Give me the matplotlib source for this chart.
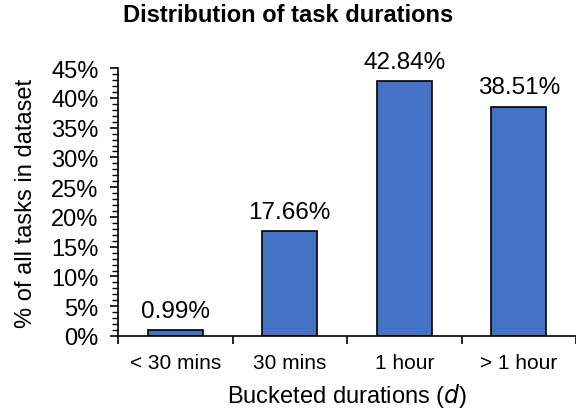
import matplotlib
matplotlib.use('Agg')
import matplotlib.pyplot as plt
from matplotlib.ticker import MultipleLocator, PercentFormatter

plt.rcParams['font.family'] = ['Liberation Sans', 'DejaVu Sans']

# data
categories = ['< 30 mins', '30 mins', '1 hour', '> 1 hour']
share = [0.99, 17.66, 42.84, 38.51]

fig = plt.figure(figsize=(5.76, 4.14), dpi=100)
ax = fig.add_axes([0.205, 0.186, 0.795, 0.647])

x = range(len(categories))
bars = ax.bar(x, share, width=0.48, color='#4472C4', edgecolor='black', linewidth=1.2)
for b, v in zip(bars, share):
    ax.annotate('{:.2f}%'.format(v), (b.get_x() + b.get_width() / 2, v),
                xytext=(0, 6), textcoords='offset points',
                ha='center', va='bottom', fontsize=17.5)

ax.set_xlim(-0.5, len(categories) - 0.5)
ax.set_ylim(0, 45)
ax.yaxis.set_major_locator(MultipleLocator(5))
ax.yaxis.set_minor_locator(MultipleLocator(1))
ax.yaxis.set_major_formatter(PercentFormatter(decimals=0))
ax.tick_params(axis='y', which='major', length=6, width=1.2, labelsize=17, pad=8)
ax.tick_params(axis='y', which='minor', length=4, width=1.0)

# category labels centred, tick marks between categories
ax.set_xticks([i - 0.5 for i in range(len(categories) + 1)])
ax.set_xticklabels([])
ax.set_xticks(list(x), minor=True)
ax.set_xticklabels(categories, minor=True, fontsize=15)
ax.tick_params(axis='x', which='major', length=6, width=1.2)
ax.tick_params(axis='x', which='minor', length=0, pad=12)

for s in ['top', 'right']:
    ax.spines[s].set_visible(False)
ax.spines['left'].set_linewidth(1.2)
ax.spines['bottom'].set_linewidth(1.2)

ax.set_ylabel('% of all tasks in dataset', fontsize=17, labelpad=10)
ax.set_xlabel('Bucketed durations ($\\it{d}$)', fontsize=17, labelpad=7)
fig.suptitle('Distribution of task durations', fontsize=17, fontweight='bold', x=0.5, y=0.99)

fig.savefig('out.png', dpi=100)
